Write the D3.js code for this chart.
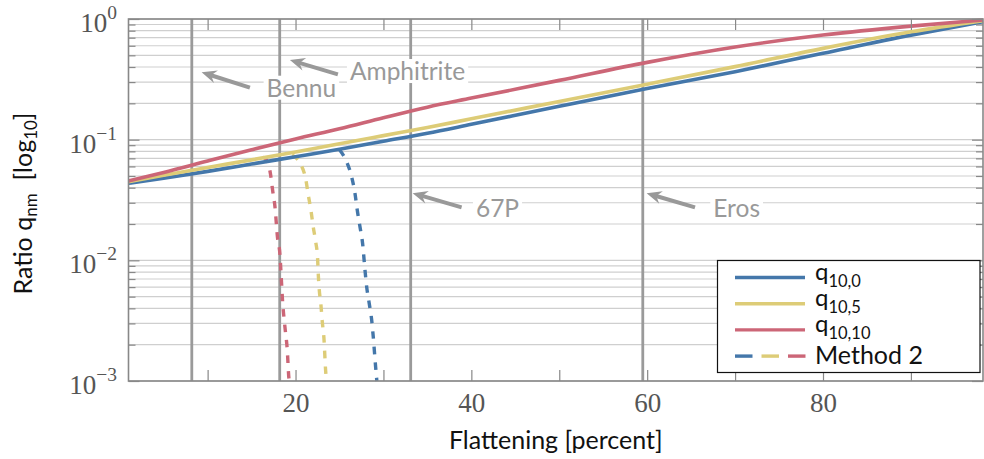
<!DOCTYPE html>
<html>
<head>
<meta charset="utf-8">
<script src="https://cdn.jsdelivr.net/npm/d3@7"></script>
<style>
  body { margin: 0; background: #fff; }
  svg { display: block; }
</style>
</head>
<body>
<div id="chart"></div>
<script>
// ---- data ----
// solid curves (flattening percent vs ratio)
const flattening = [1, 5, 10, 15, 20, 25, 30, 35, 40, 50, 60, 70, 80, 90, 98.2];
const q10_0 = [0.0435, 0.0479, 0.0546, 0.0628, 0.0723, 0.0832, 0.097, 0.113, 0.134, 0.189, 0.265, 0.366, 0.52, 0.735, 0.95];
const q10_5 = [0.0449, 0.0508, 0.0589, 0.068, 0.079, 0.0925, 0.108, 0.126, 0.149, 0.207, 0.288, 0.403, 0.571, 0.783, 0.97];
const q10_10 = [0.0455, 0.0535, 0.0665, 0.0824, 0.1014, 0.123, 0.152, 0.186, 0.221, 0.31, 0.437, 0.586, 0.736, 0.873, 0.98];

// method 2 (dashed), only the part that leaves the solid curves
const m2x_0 = [25.0, 25.81, 26.38, 26.76, 27.02, 27.33, 27.63, 27.9, 28.09, 28.38, 28.66, 28.84, 29.11, 29.25];
const m2y_0 = [0.0825, 0.0657, 0.0493, 0.036, 0.0261, 0.019, 0.0138, 0.00832, 0.00605, 0.00441, 0.00321, 0.00233, 0.00131, 0.001];
const m2x_5 = [19.6, 20.5, 21.18, 21.45, 21.75, 22.01, 22.29, 22.51, 22.58, 22.7, 22.89, 23.04, 23.23, 23.42, 23.52];
const m2y_5 = [0.0745, 0.0641, 0.0463, 0.0348, 0.0261, 0.019, 0.0143, 0.0104, 0.00785, 0.00568, 0.00427, 0.0031, 0.00227, 0.00123, 0.001];
const m2x_10 = [16.3, 16.71, 17.17, 17.39, 17.66, 17.96, 18.23, 18.34, 18.53, 18.79, 19.06, 19.25, 19.32];
const m2y_10 = [0.0712, 0.0679, 0.0509, 0.0383, 0.0278, 0.0152, 0.0111, 0.00805, 0.00454, 0.00282, 0.00181, 0.00105, 0.001];

// asteroids: flattening, arrow head / tail (data coords), label anchor
const bodies = ["Bennu", "Amphitrite", "67P", "Eros"];
const bodyFlat = [8.2, 18.2, 33.1, 59.5];
const arrowHead = [[9.32, 0.362], [19.36, 0.457], [33.32, 0.036], [59.94, 0.036]];
const arrowTail = [[14.81, 0.27], [24.82, 0.348], [38.89, 0.0275], [65.44, 0.0275]];
const labelPos = [[16.71, 0.227], [26.19, 0.312], [40.52, 0.023], [67.52, 0.023]];

const xTicks = [10, 20, 30, 40, 50, 60, 70, 80, 90];
const xTickLabels = [20, 40, 60, 80];
const yDecades = [1e-3, 1e-2, 1e-1, 1];

const colors = { blue: "#4477aa", sand: "#ddcc77", rose: "#cc6677" };

// ---- setup ----
const W = 984, H = 459;
const margin = { left: 128.5, top: 19, right: 1, bottom: 78 };
const svg = d3.select("#chart").append("svg").attr("width", W).attr("height", H);

const x = d3.scaleLinear().domain([1, 98.2]).range([margin.left, W - margin.right]);
const y = d3.scaleLog().domain([1e-3, 1]).range([H - margin.bottom, margin.top]);

const x0 = x.range()[0], x1 = x.range()[1];
const yb = y.range()[0], yt = y.range()[1];

// minor log values
var yMinor = [];
for (var k = -3; k < 0; k++) {
    for (var m = 1; m < 10; m++) yMinor.push(m * Math.pow(10, k));
}
yMinor.push(1);

// grid
svg.append("g")
    .selectAll("line")
    .data(yMinor)
    .enter()
    .append("line")
    .attr("x1", x0).attr("x2", x1)
    .attr("y1", d => y(d)).attr("y2", d => y(d))
    .attr("stroke", "#cfcfcf")
    .attr("stroke-width", 1.2);

// asteroid markers
svg.append("g")
    .selectAll("line")
    .data(bodyFlat)
    .enter()
    .append("line")
    .attr("x1", d => x(d)).attr("x2", d => x(d))
    .attr("y1", yb).attr("y2", yt)
    .attr("stroke", "#9a9a9a")
    .attr("stroke-width", 2.8);

const line = d3.line()
    .x(d => x(d[0]))
    .y(d => y(d[1]))
    .curve(d3.curveMonotoneX);

function zip(a, b) { return a.map((v, i) => [v, b[i]]); }

// dashed method 2 curves (under the solid ones)
const dashed = [
    { pts: zip(m2x_0, m2y_0), color: colors.blue },
    { pts: zip(m2x_5, m2y_5), color: colors.sand },
    { pts: zip(m2x_10, m2y_10), color: colors.rose }
];
svg.append("g")
    .selectAll("path")
    .data(dashed)
    .enter()
    .append("path")
    .attr("d", d => line(d.pts))
    .attr("fill", "none")
    .attr("stroke", d => d.color)
    .attr("stroke-width", 3.4)
    .attr("stroke-dasharray", "7.5,8");

// solid curves
const solid = [
    { pts: zip(flattening, q10_0), color: colors.blue },
    { pts: zip(flattening, q10_5), color: colors.sand },
    { pts: zip(flattening, q10_10), color: colors.rose }
];
svg.append("g")
    .selectAll("path")
    .data(solid)
    .enter()
    .append("path")
    .attr("d", d => line(d.pts))
    .attr("fill", "none")
    .attr("stroke", d => d.color)
    .attr("stroke-width", 3.6);

// annotations
const ann = svg.append("g");
bodies.forEach((name, i) => {
    var hx = x(arrowHead[i][0]), hy = y(arrowHead[i][1]);
    var tx = x(arrowTail[i][0]), ty = y(arrowTail[i][1]);
    var len = Math.hypot(hx - tx, hy - ty);
    var ux = (hx - tx) / len, uy = (hy - ty) / len;
    var nx = -uy, ny = ux;
    var hl = 15, hw = 6.5;

    ann.append("line")
        .attr("x1", tx).attr("y1", ty)
        .attr("x2", hx - ux * 9).attr("y2", hy - uy * 9)
        .attr("stroke", "#999")
        .attr("stroke-width", 4);

    var bx = hx - ux * hl, by = hy - uy * hl;
    var pts = [
        [hx, hy],
        [bx + nx * hw, by + ny * hw],
        [hx - ux * 10, hy - uy * 10],
        [bx - nx * hw, by - ny * hw]
    ];
    ann.append("polygon")
        .attr("points", pts.map(p => p.join(",")).join(" "))
        .attr("fill", "#999");

    var lx = x(labelPos[i][0]), ly = y(labelPos[i][1]);
    var bg = ann.append("rect").attr("fill", "#fff");
    var t = ann.append("text")
        .attr("x", lx).attr("y", ly)
        .attr("font-family", "Lato, sans-serif")
        .attr("font-size", 24.5)
        .attr("fill", "#999")
        .text(name);
    var w = t.node().getComputedTextLength();
    bg.attr("x", lx - 3).attr("y", ly - 21)
        .attr("width", w + 6).attr("height", 24);
});

// frame
svg.append("rect")
    .attr("x", x0).attr("y", yt)
    .attr("width", x1 - x0).attr("height", yb - yt)
    .attr("fill", "none")
    .attr("stroke", "#888")
    .attr("stroke-width", 1.6);

// x axis (ticks inward, both sides)
const xAxis = d3.axisBottom(x)
    .tickValues(xTicks)
    .tickSize(-11)
    .tickFormat(d => xTickLabels.indexOf(d) >= 0 ? d : "");
const gx = svg.append("g")
    .attr("transform", "translate(0," + yb + ")")
    .call(xAxis);
gx.select(".domain").remove();
gx.selectAll(".tick line").attr("stroke", "#888").attr("stroke-width", 1.2);
gx.selectAll(".tick text")
    .attr("y", 30.5)
    .attr("dy", 0)
    .attr("font-family", "'Liberation Serif', serif")
    .attr("font-size", 27)
    .attr("fill", "#555");

const gxTop = svg.append("g")
    .attr("transform", "translate(0," + yt + ")")
    .call(d3.axisTop(x).tickValues(xTicks).tickSize(-11).tickFormat(""));
gxTop.select(".domain").remove();
gxTop.selectAll(".tick line").attr("stroke", "#888").attr("stroke-width", 1.2);

// y axis
const yAxis = d3.axisLeft(y)
    .tickValues(yMinor)
    .tickSize(-7)
    .tickFormat("");
const gy = svg.append("g")
    .attr("transform", "translate(" + x0 + ",0)")
    .call(yAxis);
gy.select(".domain").remove();
gy.selectAll(".tick line")
    .attr("x2", d => yDecades.indexOf(d) >= 0 ? 11 : 7)
    .attr("stroke", "#888").attr("stroke-width", 1.2);

const gyR = svg.append("g")
    .attr("transform", "translate(" + x1 + ",0)")
    .call(d3.axisRight(y).tickValues(yMinor).tickSize(-7).tickFormat(""));
gyR.select(".domain").remove();
gyR.selectAll(".tick line")
    .attr("x2", d => yDecades.indexOf(d) >= 0 ? -11 : -7)
    .attr("stroke", "#888").attr("stroke-width", 1.2);

// decade labels as 10^k
const yl = svg.append("g");
yDecades.forEach(d => {
    var e = Math.round(Math.log10(d));
    var t = yl.append("text")
        .attr("x", 117)
        .attr("y", y(d) + 13)
        .attr("text-anchor", "end")
        .attr("font-family", "'Liberation Serif', serif")
        .attr("font-size", 27)
        .attr("fill", "#555");
    t.append("tspan").text("10");
    t.append("tspan")
        .attr("dy", -13)
        .attr("font-size", 19.5)
        .text(e === 0 ? "0" : "\u2212" + Math.abs(e));
});

// axis titles
svg.append("text")
    .attr("x", (x0 + x1) / 2)
    .attr("y", 449)
    .attr("text-anchor", "middle")
    .attr("font-family", "Lato, sans-serif")
    .attr("font-size", 25)
    .attr("fill", "#111")
    .text("Flattening [percent]");

const yt1 = svg.append("text")
    .attr("transform", "translate(31.5," + ((yt + yb) / 2 + 3.5) + ") rotate(-90)")
    .attr("text-anchor", "middle")
    .attr("font-family", "Lato, sans-serif")
    .attr("font-size", 25)
    .attr("fill", "#111")
    .attr("xml:space", "preserve");
yt1.append("tspan").text("Ratio q");
yt1.append("tspan").attr("dy", 5).attr("font-size", 17).text("nm");
yt1.append("tspan").attr("dy", -5).text("  [log");
yt1.append("tspan").attr("dy", 5).attr("font-size", 17).text("10");
yt1.append("tspan").attr("dy", -5).text("]");

// legend
const legendItems = [
    { main: "q", sub: "10,0", colors: [colors.blue] },
    { main: "q", sub: "10,5", colors: [colors.sand] },
    { main: "q", sub: "10,10", colors: [colors.rose] },
    { main: "Method 2", sub: null, colors: [colors.blue, colors.sand, colors.rose] }
];
const lg = svg.append("g");
lg.append("rect")
    .attr("x", 717.5).attr("y", 260.5)
    .attr("width", 262.5).attr("height", 112)
    .attr("fill", "#fff")
    .attr("stroke", "#111")
    .attr("stroke-width", 1.2);

legendItems.forEach((it, i) => {
    var ly = 277.5 + i * 26.2;
    if (it.colors.length === 1) {
        lg.append("line")
            .attr("x1", 735).attr("x2", 805)
            .attr("y1", ly).attr("y2", ly)
            .attr("stroke", it.colors[0]).attr("stroke-width", 3.4);
    } else {
        it.colors.forEach((c, j) => {
            lg.append("line")
                .attr("x1", 735 + j * 26.5).attr("x2", 735 + j * 26.5 + 17.5)
                .attr("y1", ly).attr("y2", ly)
                .attr("stroke", c).attr("stroke-width", 3.4);
        });
    }
    var t = lg.append("text")
        .attr("x", 815)
        .attr("y", ly + (it.sub ? 2.5 : 7.5))
        .attr("font-family", "Lato, sans-serif")
        .attr("font-size", it.sub ? 24 : 25)
        .attr("fill", "#111");
    t.append("tspan").text(it.main);
    if (it.sub) {
        t.append("tspan").attr("dy", 6.5).attr("font-size", 16.5).text(it.sub);
    }
});
</script>
</body>
</html>
